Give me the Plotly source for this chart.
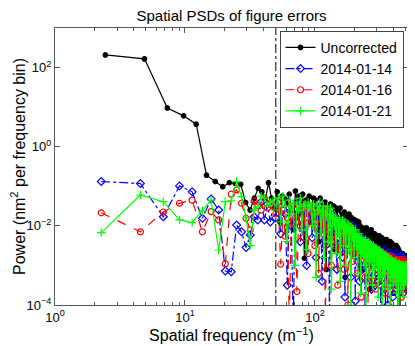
import numpy as np
import plotly.graph_objects as go

# frequency bin widths (m^-1) of the two data sets
df_unc = 2.44
df_cor = 2.27
cutoff = 50  # dash-dot marker line

# log10 of power (nm^2 per frequency bin)
unc_log10 = [2.32, 2.22, 0.98, 0.78, 0.57, -0.72, -0.88, -1.01, -0.91, -0.93, -0.95, -1.41, -1.60, -1.30, -1.05, -1.14, -1.35, -0.91, -1.30, -1.56,
             -1.14, -1.9, -1.25, -1.3, -1.45, -1.2, -1.6, -2.1, -1.12, -1.4, -1.25, -1.7, -1.2, -2.82, -1.35, -1.5, -1.25, -1.9, -1.55, -1.3,
             -1.35, -1.8, -1.5, -2.4, -1.3, -1.7, -1.45, -2.0, -1.4, -3.1, -1.6, -1.5, -1.9, -1.45, -2.2, -1.7, -1.5, -2.6, -1.75, -1.55,
             -1.6, -2.1, -1.8, -1.55, -2.5, -1.9, -1.7, -2.0, -1.65, -3.3, -1.85, -1.75, -2.2, -1.9, -1.7, -2.4, -1.85, -2.0, -1.8, -2.7,
             -1.9, -2.05, -1.85, -2.3, -2.0, -1.88, -2.5, -2.0, -1.9, -3.0,
             -2.0, -2.2, -2.1, -2.6, -2.05, -2.3, -2.15, -3.1, -2.1, -2.25, -2.4, -2.05, -2.7, -2.2, -2.15, -2.5, -2.3, -3.6, -2.2, -2.35,
             -2.1, -2.6, -2.25, -2.4, -2.2, -2.9, -2.3, -2.2, -2.5, -2.35, -2.8, -2.25, -2.4, -2.3, -3.3, -2.35, -2.45, -2.25, -2.6, -2.3,
             -2.35, -2.5, -2.7, -2.3, -2.45, -3.0, -2.4, -2.55, -2.35, -2.8, -2.5, -2.4, -4.2, -2.45, -2.6, -2.35, -2.7, -2.5, -2.9, -2.4,
             -2.55, -2.45, -3.4, -2.5, -2.6, -2.4, -2.75, -2.55, -2.5, -3.0, -2.45, -2.6, -2.8, -2.5, -3.7, -2.55, -2.65, -2.5, -2.9, -2.6,
             -2.6, -2.75, -2.5, -3.1, -2.65, -2.8, -2.55, -2.7, -3.5, -2.6, -2.75, -2.9, -2.65, -2.8, -4.3, -2.7, -2.75, -2.85, -2.7, -3.2,
             -2.75, -2.8, -2.7, -3.0, -2.85, -2.75, -3.6, -2.8, -2.9, -2.75, -2.85, -3.1, -2.8, -2.9, -2.75, -3.3, -2.85, -2.8, -2.9, -2.75]

jan14_log10 = [-0.88, -0.93, -1.77, -0.99, -1.14, -1.81, -1.32, -1.6, -3.14, -3.16, -1.98, -2.15, -2.55, -2.23, -1.77, -1.85, -1.39, -1.85, -1.45, -1.9,
               -1.5, -1.8, -1.4, -2.2, -1.6, -1.7, -3.5, -1.55, -2.0, -4.5, -1.6, -1.9, -1.45, -2.4, -1.7, -2.1, -1.5, -3.0, -1.8, -1.6,
               -1.7, -2.3, -1.6, -1.9, -2.8, -1.75, -1.55, -2.1, -1.8, -3.4, -1.7, -1.95, -2.5, -1.75, -2.0, -1.65, -4.4, -1.85, -2.2, -1.9,
               -1.8, -2.4, -2.0, -1.9, -3.1, -2.1, -1.85, -2.3, -2.6, -2.0, -1.95, -2.8, -2.1, -2.3, -3.8, -2.05, -2.2, -1.95, -2.5, -2.2,
               -2.35, -2.1, -3.3, -2.2, -2.4, -2.0, -2.7, -2.25, -2.4, -3.9,
               -2.2, -2.5, -2.3, -2.9, -2.35, -2.25, -3.4, -2.45, -2.3, -2.6, -2.4, -3.1, -2.35, -2.5, -2.7, -2.4, -4.1, -2.5, -2.55, -2.4,
               -2.8, -2.6, -2.45, -3.3, -2.5, -2.7, -2.55, -2.9, -2.6, -3.6, -2.5, -2.65, -2.8, -2.55, -3.0, -2.6, -2.7, -3.5, -2.65, -2.75,
               -2.6, -2.8, -3.1, -2.65, -2.75, -3.4, -2.7, -2.6, -2.9, -2.75, -4.2, -2.7, -2.85, -2.65, -3.0, -2.8, -2.7, -3.3, -2.75, -2.9,
               -2.6, -3.6, -2.8, -2.7, -2.95, -2.85, -3.2, -2.75, -2.9, -4.0, -2.8, -2.85, -3.0, -2.7, -3.3, -2.9, -2.8, -2.95, -3.5, -2.85,
               -2.75, -3.1, -2.9, -2.8, -3.8, -2.85, -2.95, -3.0, -2.8, -3.2,
               -2.9, -2.85, -3.4, -2.8, -2.95, -3.0, -2.7, -3.6, -2.9, -2.85, -3.1, -2.95, -2.8, -4.3, -2.9, -3.0, -2.85, -3.2, -2.95, -2.9,
               -3.5, -2.85, -3.0, -2.75, -3.3, -2.95, -2.9, -3.1, -2.8, -3.7, -2.95, -2.9, -3.0, -2.85, -3.4, -2.95, -3.05, -2.9, -3.2, -2.85,
               -3.0, -3.6, -2.9, -2.95, -3.1]

jan16_log10 = [-1.67, -2.15, -1.65, -1.43, -1.35, -2.15, -1.64, -1.85, -2.96, -1.2, -1.09, -1.43, -1.81, -2.1, -1.37, -1.5, -1.6, -1.3, -1.55, -1.45,
               -1.5, -1.7, -1.4, -2.97, -1.6, -2.26, -1.8, -4.5, -1.5, -1.9, -1.6, -3.66, -1.7, -2.0, -1.45, -2.3, -1.55, -1.8, -2.7, -1.6,
               -1.5, -1.9, -1.7, -2.5, -1.55, -1.8, -3.2, -1.65, -1.95, -1.7, -2.2, -1.6, -4.4, -1.8, -1.9, -2.4, -1.7, -2.0, -3.0, -1.85,
               -1.9, -2.1, -2.5, -1.95, -2.0, -3.5, -2.1, -2.2, -1.9, -2.6, -2.05, -2.3, -2.0, -3.1, -2.15, -2.4, -2.1, -2.2, -4.0, -2.15,
               -2.3, -2.05, -2.6, -2.25, -2.15, -2.9, -2.3, -2.2, -2.5, -2.35,
               -2.3, -2.6, -2.4, -3.2, -2.35, -2.5, -2.7, -2.4, -2.55, -3.8, -2.45, -2.6, -2.5, -2.9, -2.4, -2.65, -3.3, -2.5, -2.6, -2.75,
               -2.45, -2.55, -4.2, -2.6, -2.7, -2.5, -3.0, -2.65, -2.55, -2.8, -2.6, -3.4, -2.65, -2.7, -2.55, -2.9, -2.75, -2.6, -3.6, -2.7,
               -2.7, -2.85, -2.6, -3.1, -2.75, -2.65, -2.9, -3.5, -2.7, -2.8, -2.75, -3.0, -2.65, -4.1, -2.8, -2.9, -2.75, -3.2, -2.8, -2.7,
               -3.0, -2.85, -3.7, -2.8, -2.9, -2.75, -3.1, -2.85, -2.95, -3.3, -2.8, -2.9, -2.75, -3.5, -2.9, -2.85, -3.0, -2.8, -4.3, -2.9,
               -2.95, -3.1, -2.85, -3.0, -3.4, -2.9, -2.8, -3.05, -2.95, -3.2,
               -2.9, -3.0, -2.85, -3.6, -2.95, -3.1, -2.9, -3.0, -3.3, -2.85, -2.95, -4.2, -3.0, -2.9, -3.1, -2.95, -3.5, -2.9, -3.0, -2.85,
               -3.2, -3.0, -2.95, -3.8, -2.9, -3.05, -3.0, -2.9, -3.3, -2.95, -3.0, -2.85, -3.6, -2.95, -3.1, -2.9, -2.94, -3.0, -3.4, -2.9,
               -2.95, -3.1, -2.9, -3.0, -2.95]

jan21_log10 = [-2.17, -1.22, -1.39, -1.85, -1.92, -1.62, -1.35, -2.61, -1.39, -1.37, -0.88, -1.26, -1.8, -2.5, -1.6, -1.52, -1.25, -1.3, -1.5, -1.4,
               -1.35, -1.6, -1.3, -1.9, -1.25, -1.5, -2.4, -1.35, -1.7, -1.45, -3.0, -1.4, -1.6, -1.3, -2.1, -1.5, -1.45, -2.6, -1.4, -1.55,
               -1.5, -2.0, -1.45, -1.7, -3.3, -1.5, -1.6, -1.4, -2.2, -1.65, -1.5, -2.8, -1.6, -1.75, -1.5, -2.4, -1.7, -1.55, -3.6, -1.7,
               -1.75, -2.0, -1.8, -2.7, -1.85, -1.9, -2.2, -1.8, -3.4, -1.95, -2.0, -1.85, -2.5, -2.0, -1.9, -3.0, -2.05, -2.1, -1.95, -2.6,
               -2.1, -2.0, -4.0, -2.15, -2.05, -2.3, -2.1, -2.8, -2.2, -2.1,
               -2.2, -2.5, -2.25, -3.2, -2.3, -2.2, -2.6, -2.35, -3.7, -2.3, -2.4, -2.7, -2.35, -2.45, -3.0, -2.4, -2.5, -2.35, -4.1, -2.45,
               -2.5, -2.8, -2.4, -2.55, -3.3, -2.5, -2.45, -2.6, -2.9, -2.5, -2.55, -3.5, -2.6, -2.5, -2.7, -2.55, -3.1, -2.6, -2.65, -2.55,
               -2.6, -3.0, -2.65, -2.7, -3.8, -2.65, -2.6, -2.9, -2.7, -3.3, -2.65, -2.75, -2.7, -3.0, -2.8, -4.2, -2.7, -2.75, -2.85, -3.2,
               -2.75, -2.8, -3.5, -2.8, -2.75, -2.9, -3.0, -2.85, -2.8, -3.6, -2.85, -2.9, -2.8, -3.1, -2.9, -2.85, -4.0, -2.9, -2.95, -3.0,
               -2.85, -3.3, -2.9, -2.95, -2.9, -3.5, -2.95, -3.0, -2.9, -3.2,
               -3.0, -2.95, -3.4, -3.0, -2.9, -3.1, -3.05, -3.7, -3.0, -2.95, -3.2, -3.0, -3.05, -4.3, -3.0, -3.1, -2.95, -3.3, -3.05, -3.0,
               -3.15, -3.6, -3.0, -3.1, -3.05, -3.4, -3.0, -3.1, -3.0, -3.8, -3.05, -3.1, -3.0, -3.2, -3.1, -3.5, -3.05, -3.0, -3.2, -3.1,
               -3.05, -3.4, -3.1, -3.0, -3.15]

series = [
    ("Uncorrected", unc_log10, df_unc, "black", "solid", "circle", 4.5),
    ("2014-01-14", jan14_log10, df_cor, "#0000ff", "dashdot", "diamond-open", 6),
    ("2014-01-16", jan16_log10, df_cor, "#ff0000", "dash", "circle-open", 6),
    ("2014-01-21", jan21_log10, df_cor, "#00ff00", "solid", "cross-thin-open", 6),
]

FONT = "Liberation Sans, Arial, sans-serif"

fig = go.Figure()
for name, vals, dfreq, color, dash, sym, size in series:
    freq = dfreq * np.arange(1, len(vals) + 1)
    fig.add_trace(go.Scatter(
        x=freq, y=10 ** np.array(vals), name=name, mode="lines+markers",
        line=dict(color=color, width=1.2, dash=dash),
        marker=dict(symbol=sym, size=size, color=color, line=dict(color=color, width=1.2)),
    ))

# vertical dash-dot line
fig.add_trace(go.Scatter(x=[cutoff, cutoff], y=[1e-4, 1e3], mode="lines", showlegend=False,
                         line=dict(color="black", width=1, dash="dashdot")))

minor_x = [m * 10 ** d for d in range(3) for m in range(2, 10) if m * 10 ** d < 520]

# the page puts the plot 8px in from the top-left corner, so the figure is 8px smaller
fig.update_layout(
    width=407, height=338,
    margin=dict(l=47, r=7, t=20, b=41, autoexpand=False),
    paper_bgcolor="white", plot_bgcolor="white",
    font=dict(family=FONT, size=13, color="black"),
    title=dict(text="Spatial PSDs of figure errors", x=0.5, xref="paper", xanchor="center",
               y=0.978, yref="container", yanchor="middle", font=dict(size=15)),
    showlegend=True,
    legend=dict(x=0.636, y=0.99, xanchor="left", yanchor="top", bgcolor="white",
                bordercolor="#444", borderwidth=1, font=dict(size=14), tracegroupgap=0),
)
fig.update_xaxes(
    type="log", range=[0, np.log10(520)], automargin=False,
    tickvals=[1, 10, 100], ticktext=["10<sup>0</sup>", "10<sup>1</sup>", "10<sup>2</sup>"],
    ticks="inside", ticklen=5, tickcolor="#555", showline=True, linecolor="#555", linewidth=1,
    mirror="ticks", showgrid=False, zeroline=False,
    minor=dict(tickvals=minor_x, ticks="inside", ticklen=3, tickcolor="#555", showgrid=False),
    title=dict(text="Spatial frequency (m<sup>−1</sup>)", standoff=2),
)
fig.update_yaxes(
    type="log", range=[-4, 3], automargin=False,
    tickvals=[1e-4, 1e-2, 1, 1e2],
    ticktext=["10<sup>−4</sup>", "10<sup>−2</sup>", "10<sup>0</sup>", "10<sup>2</sup>"],
    ticks="inside", ticklen=5, tickcolor="#555", showline=True, linecolor="#555", linewidth=1,
    mirror="ticks", showgrid=False, zeroline=False,
    title=dict(text="Power (nm<sup>2</sup> per frequency bin)", standoff=2),
)

fig.write_html("out.html")
